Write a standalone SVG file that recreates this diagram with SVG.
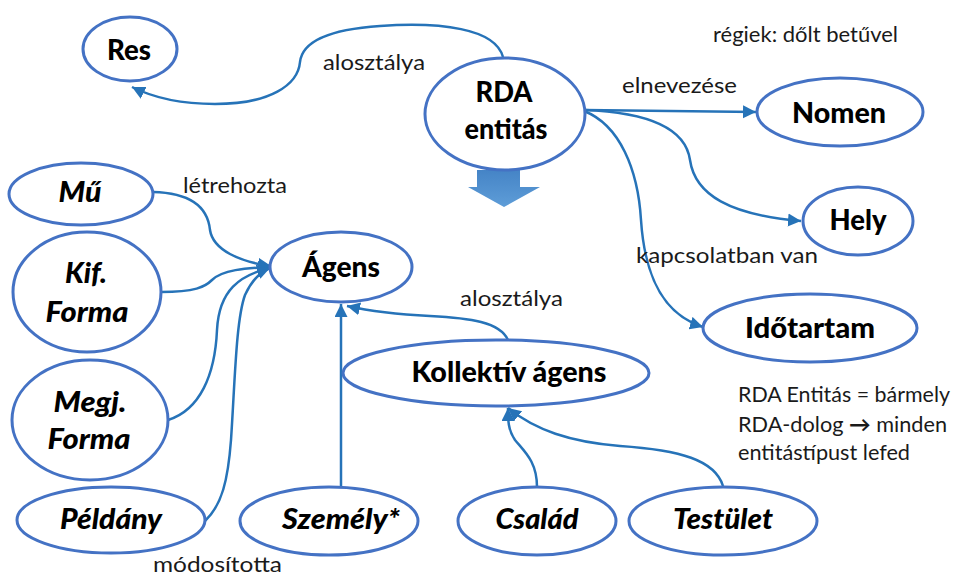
<svg xmlns="http://www.w3.org/2000/svg" width="955" height="575" viewBox="0 0 955 575">
  <style>
    .node ellipse { fill: #ffffff; stroke: #4472C4; stroke-width: 3; }
    .nt { font-family: Lato, "Liberation Sans", sans-serif; font-weight: 900; font-size: 28px; fill: #000; text-anchor: middle; }
    .old .nt { font-style: italic; }
    .lbl { font-family: Lato, "Liberation Sans", sans-serif; font-size: 21px; fill: #1a1a1a; }
    .edges path { fill: none; stroke: #2673B8; stroke-width: 2.5; }
  </style>
  <defs>
    <marker id="arr" markerUnits="userSpaceOnUse" markerWidth="16" markerHeight="14" refX="13" refY="6.5" orient="auto">
      <path d="M0,0 L13,6.5 L0,13 Z" fill="#2673B8"/>
    </marker>
    <linearGradient id="bigArrow" x1="0" y1="0" x2="0" y2="1">
      <stop offset="0" stop-color="#4584C6"/>
      <stop offset="1" stop-color="#5E9DD8"/>
    </linearGradient>
  </defs>

  <rect width="955" height="575" fill="#ffffff"/>

  <!-- connectors -->
  <g class="edges">
    <path d="M503,57 C495,28 440,22 380,26 C320,30 302,45 300,62 C298,85 270,104 215,104 C175,104 150,96 132,87" marker-end="url(#arr)"/>
    <path d="M584,110 L756,112" marker-end="url(#arr)"/>
    <path d="M584,110 C640,112 685,125 690,160 C695,195 730,215 801,221" marker-end="url(#arr)"/>
    <path d="M584,111 C620,125 638,170 641,220 C645,280 665,315 703,327" marker-end="url(#arr)"/>
    <path d="M153,192 C195,193 208,210 210,230 C213,250 240,262 271,266" marker-end="url(#arr)"/>
    <path d="M161,292 C195,292 205,287 212,280 C222,270 245,268 271,267" marker-end="url(#arr)"/>
    <path d="M168,420 C200,410 215,375 217,330 C219,290 240,275 270,268" marker-end="url(#arr)"/>
    <path d="M205,521 C222,505 228,480 231,440 C235,380 236,320 245,295 C252,280 260,272 270,268" marker-end="url(#arr)"/>
    <path d="M341,487 L341,304" marker-end="url(#arr)"/>
    <path d="M508,340 C500,322 470,318 430,316 C390,314 365,310 347,306" marker-end="url(#arr)"/>
    <path d="M537,487 C537,462 525,452 515,440 C508,430 508,420 508,408" marker-end="url(#arr)"/>
    <path d="M723,486 C715,460 680,450 620,446 C570,442 535,430 508,408" marker-end="url(#arr)"/>
  </g>

  <!-- connector labels and notes -->
  <g>
    <text class="lbl" x="323" y="70" textLength="102" lengthAdjust="spacingAndGlyphs">alosztálya</text>
    <text class="lbl" x="713" y="42" textLength="185" lengthAdjust="spacingAndGlyphs">régiek: dőlt betűvel</text>
    <text class="lbl" x="622" y="93" textLength="115" lengthAdjust="spacingAndGlyphs">elnevezése</text>
    <text class="lbl" x="636" y="263" textLength="182" lengthAdjust="spacingAndGlyphs">kapcsolatban van</text>
    <text class="lbl" x="183" y="193" textLength="104" lengthAdjust="spacingAndGlyphs">létrehozta</text>
    <text class="lbl" x="460" y="306" textLength="103" lengthAdjust="spacingAndGlyphs">alosztálya</text>
    <text class="lbl" x="153" y="572" textLength="129" lengthAdjust="spacingAndGlyphs">módosította</text>
    <text class="lbl" x="738" y="402" textLength="212" lengthAdjust="spacingAndGlyphs">RDA Entitás = bármely</text>
    <text class="lbl" x="738" y="432" textLength="209" lengthAdjust="spacingAndGlyphs">RDA-dolog <tspan font-weight="bold">→</tspan> minden</text>
    <text class="lbl" x="738" y="460" textLength="172" lengthAdjust="spacingAndGlyphs">entitástípust lefed</text>
  </g>

  <!-- big down arrow under the RDA entity -->
  <path d="M477,170 L520,170 L520,187 L540,187 L504,207 L468,187 L477,187 Z" fill="url(#bigArrow)"/>

  <!-- nodes -->
  <g id="res" class="node">
    <ellipse cx="130" cy="49" rx="47" ry="32"/>
    <text class="nt" x="129" y="60" textLength="44" lengthAdjust="spacingAndGlyphs">Res</text>
  </g>
  <g id="rda-entitas" class="node">
    <ellipse cx="505" cy="114" rx="80" ry="56"/>
    <text class="nt" x="504" y="102" textLength="57" lengthAdjust="spacingAndGlyphs">RDA</text>
    <text class="nt" x="506" y="139" textLength="83" lengthAdjust="spacingAndGlyphs">entitás</text>
  </g>
  <g id="nomen" class="node">
    <ellipse cx="840" cy="112" rx="83" ry="34"/>
    <text class="nt" x="839" y="123" textLength="94" lengthAdjust="spacingAndGlyphs">Nomen</text>
  </g>
  <g id="hely" class="node">
    <ellipse cx="858" cy="221" rx="55" ry="34"/>
    <text class="nt" x="858" y="230" textLength="57" lengthAdjust="spacingAndGlyphs">Hely</text>
  </g>
  <g id="idotartam" class="node">
    <ellipse cx="810" cy="328" rx="107" ry="34"/>
    <text class="nt" x="810" y="338" textLength="130" lengthAdjust="spacingAndGlyphs">Időtartam</text>
  </g>
  <g id="agens" class="node">
    <ellipse cx="341" cy="267" rx="71" ry="35"/>
    <text class="nt" x="341" y="277" textLength="78" lengthAdjust="spacingAndGlyphs">Ágens</text>
  </g>
  <g id="kollektiv-agens" class="node">
    <ellipse cx="496" cy="373" rx="153" ry="33"/>
    <text class="nt" x="509" y="382" textLength="195" lengthAdjust="spacingAndGlyphs">Kollektív ágens</text>
  </g>
  <g id="mu" class="node old">
    <ellipse cx="81" cy="194" rx="72" ry="31"/>
    <text class="nt" x="80" y="202" textLength="43" lengthAdjust="spacingAndGlyphs">Mű</text>
  </g>
  <g id="kif-forma" class="node old">
    <ellipse cx="87" cy="292" rx="74" ry="60"/>
    <text class="nt" x="86" y="283" textLength="42" lengthAdjust="spacingAndGlyphs">Kif.</text>
    <text class="nt" x="87" y="322" textLength="83" lengthAdjust="spacingAndGlyphs">Forma</text>
  </g>
  <g id="megj-forma" class="node old">
    <ellipse cx="90" cy="420" rx="78" ry="60"/>
    <text class="nt" x="90" y="412" textLength="73" lengthAdjust="spacingAndGlyphs">Megj.</text>
    <text class="nt" x="89" y="449" textLength="83" lengthAdjust="spacingAndGlyphs">Forma</text>
  </g>
  <g id="peldany" class="node old">
    <ellipse cx="111" cy="520" rx="94" ry="33"/>
    <text class="nt" x="111" y="529" textLength="102" lengthAdjust="spacingAndGlyphs">Példány</text>
  </g>
  <g id="szemely" class="node old">
    <ellipse cx="329" cy="521" rx="89" ry="34"/>
    <text class="nt" x="341" y="529" textLength="118" lengthAdjust="spacingAndGlyphs">Személy*</text>
  </g>
  <g id="csalad" class="node old">
    <ellipse cx="537" cy="521" rx="79" ry="34"/>
    <text class="nt" x="537" y="529" textLength="83" lengthAdjust="spacingAndGlyphs">Család</text>
  </g>
  <g id="testulet" class="node old">
    <ellipse cx="723" cy="521" rx="94" ry="34"/>
    <text class="nt" x="723" y="529" textLength="100" lengthAdjust="spacingAndGlyphs">Testület</text>
  </g>
</svg>
